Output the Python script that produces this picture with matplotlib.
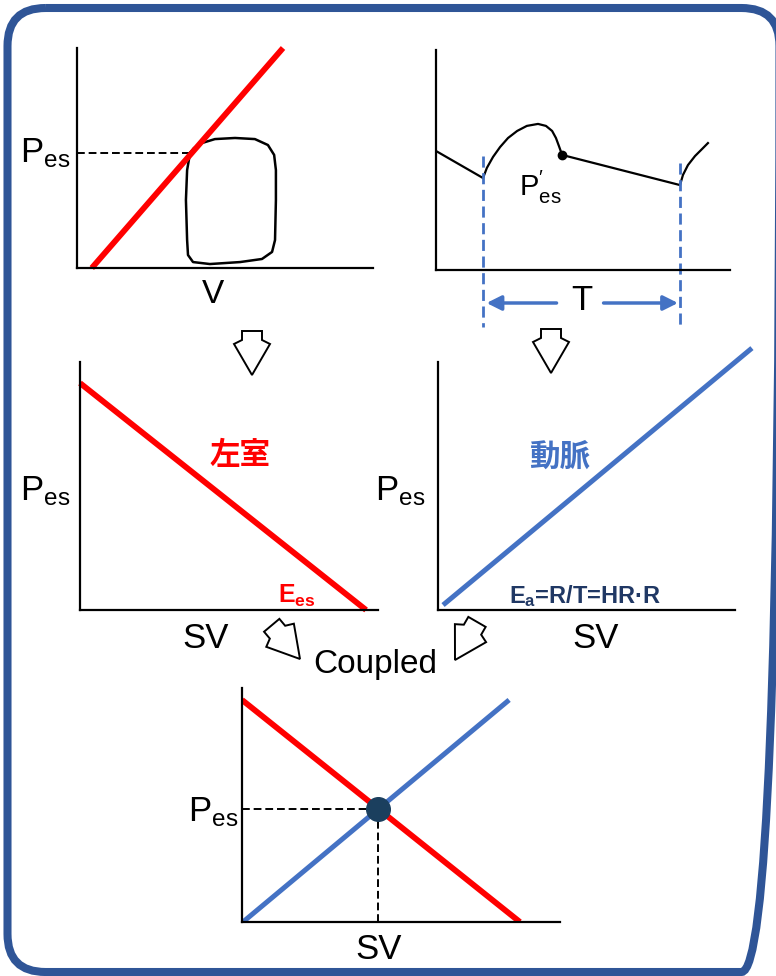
import numpy as np
import matplotlib.pyplot as plt
from matplotlib import font_manager
from matplotlib.patches import FancyBboxPatch, Polygon

installed = {f.name for f in font_manager.fontManager.ttflist}
LABEL_FONT = 'Liberation Sans Narrow' if 'Liberation Sans Narrow' in installed else 'Liberation Sans'

plt.rcParams['font.family'] = [LABEL_FONT, 'DejaVu Sans']
plt.rcParams['mathtext.fontset'] = 'custom'
plt.rcParams['mathtext.rm'] = LABEL_FONT
plt.rcParams['mathtext.it'] = LABEL_FONT
plt.rcParams['mathtext.bf'] = 'Liberation Sans:bold'

RED = '#FF0000'
BLUE = '#4472C4'
NAVY = '#203864'
FRAME = '#2F5597'

# --- top left: end-systolic P-V line and pressure-volume loop
espvr_v = [5.0, 69.6]
espvr_p = [0.0, 100.0]
pes_lv = 52.3
loop_v = [38.2, 37.2, 36.8, 37.2, 37.5, 39.2, 44.9, 55.1, 62.5, 65.9, 66.9, 67.2,
          67.2, 66.6, 64.5, 60.1, 53.4, 46.6, 42.2, 39.5, 38.2]
loop_p = [52.3, 44.5, 30.9, 12.7, 5.9, 2.7, 1.8, 2.7, 4.1, 7.3, 12.7, 30.9,
          44.5, 51.4, 55.9, 58.6, 59.1, 58.6, 56.8, 54.5, 52.3]

# --- top right: aortic pressure wave over one beat
wave_t = [0.0, 16.0, 17.3, 19.4, 21.8, 24.5, 27.6, 30.9, 34.7, 37.4, 39.5, 40.8, 41.8,
          42.9, 83.0, 84.0, 85.7, 88.1, 90.5, 92.5]
wave_p = [54.1, 41.8, 46.4, 51.4, 55.9, 60.0, 63.2, 65.5, 66.4, 65.5, 63.2, 60.0, 56.4,
          52.3, 38.6, 43.2, 47.7, 51.8, 55.0, 57.7]
notch_idx = 13         # end-systolic point on the wave
beat_idx = [1, 14]     # start / end of the beat interval T

# --- middle: ventricular (Ees) and arterial (Ea) lines against SV
lv_sv = [0.0, 96.0]
lv_p = [91.5, 0.0]
ea_sv = [1.7, 105.7]
ea_p = [2.0, 105.6]

# --- bottom: coupling of the two lines
cpl_lv_sv = [0.0, 87.4]
cpl_lv_p = [94.9, 0.0]
cpl_ea_sv = [0.3, 84.0]
cpl_ea_p = [0.0, 94.9]

W, H = 776, 976
fig = plt.figure(figsize=(W / 100, H / 100), dpi=100)
fig.patch.set_facecolor('white')

ov = fig.add_axes([0, 0, 1, 1])
ov.set_xlim(0, W)
ov.set_ylim(H, 0)
ov.axis('off')


def panel(x0, y0, x1, y1):
    ax = fig.add_axes([x0 / W, 1 - y1 / H, (x1 - x0) / W, (y1 - y0) / H])
    ax.set_facecolor('none')
    ax.set_xlim(0, 100)
    ax.set_ylim(0, 100)
    for s in ('top', 'right'):
        ax.spines[s].set_visible(False)
    for s in ('left', 'bottom'):
        ax.spines[s].set_linewidth(1.6)
        ax.spines[s].set_color('black')
    ax.set_xticks([])
    ax.set_yticks([])
    return ax


def pes_label(ax, x, y, size=25):
    ax.text(x, y, r'$\mathrm{P_{es}}$', fontsize=size, ha='right', va='center')


def hollow_arrow(x, y, angle):
    # tip at (x, y); angle in degrees, 0 = pointing straight down
    shape = np.array([(-10, -44), (10, -44), (10, -35), (18, -31), (0, 0),
                      (-18, -31), (-10, -35)], dtype=float)
    a = np.radians(angle)
    rot = np.array([[np.cos(a), np.sin(a)], [-np.sin(a), np.cos(a)]])
    pts = shape @ rot.T + [x, y]
    ov.add_patch(Polygon(pts, closed=True, facecolor='white', edgecolor='black',
                         lw=1.4, joinstyle='miter'))


def line_cross(x1, y1, x2, y2):
    m1 = (y1[1] - y1[0]) / (x1[1] - x1[0])
    m2 = (y2[1] - y2[0]) / (x2[1] - x2[0])
    b1 = y1[0] - m1 * x1[0]
    b2 = y2[0] - m2 * x2[0]
    xs = (b2 - b1) / (m1 - m2)
    return xs, m1 * xs + b1


# frame
ov.add_patch(FancyBboxPatch((7.5, 8), 772, 964, boxstyle='round,pad=0,rounding_size=38',
                            facecolor='none', edgecolor=FRAME, lw=5.8))

# top left
ax1 = panel(77, 48, 373, 268)
ax1.plot(loop_v, loop_p, color='black', lw=1.8)
v_es = espvr_v[0] + pes_lv * (espvr_v[1] - espvr_v[0]) / (espvr_p[1] - espvr_p[0])
ax1.plot([0, v_es], [pes_lv, pes_lv], color='black', lw=1.4, ls=(0, (4, 2)))
ax1.plot(espvr_v, espvr_p, color=RED, lw=4.2, clip_on=False, solid_capstyle='butt')
pes_label(ax1, -2.4, pes_lv)
ax1.text(46, -5, 'V', fontsize=24, ha='center', va='top')

# top right
ax2 = panel(436, 50, 730, 270)
ax2.plot(wave_t, wave_p, color='black', lw=1.6)
ax2.plot(wave_t[notch_idx], wave_p[notch_idx], 'o', color='black', ms=6)
ax2.text(35.4, 37.5, r'$\mathrm{P_{es}^{\prime}}$', fontsize=21, ha='center', va='center')
for i in beat_idx:
    ax2.plot([wave_t[i], wave_t[i]], [wave_p[i] + 10, -26], color=BLUE, lw=2,
             ls=(0, (4, 2)), clip_on=False)
t_mid = (wave_t[beat_idx[0]] + wave_t[beat_idx[1]]) / 2
ax2.text(t_mid, -14, 'T', fontsize=25, ha='center', va='center')
for x_from, x_to in [(t_mid - 8.5, wave_t[beat_idx[0]] + 1.2),
                     (t_mid + 7.5, wave_t[beat_idx[1]] - 0.7)]:
    ax2.annotate('', xy=(x_to, -15), xytext=(x_from, -15), annotation_clip=False,
                 arrowprops=dict(arrowstyle='-|>', color=BLUE, lw=2.5,
                                 mutation_scale=22, shrinkA=0, shrinkB=0))

hollow_arrow(252, 375, 0)
hollow_arrow(551, 373, 0)

# middle left: ventricle
ax3 = panel(80, 362, 378, 610)
ax3.plot(lv_sv, lv_p, color=RED, lw=4.2, clip_on=False, solid_capstyle='butt')
ax3.text(53.7, 62.5, '左室', fontsize=22, color=RED, weight='bold',
         family=['Noto Sans CJK JP'], ha='center', va='center')
ax3.text(72.8, 5.5, r'$\mathbf{E_{es}}$', fontsize=18, color=RED, ha='center', va='center')
pes_label(ax3, -3.4, 48)
ax3.text(42, -5, 'SV', fontsize=25, ha='center', va='top')

# middle right: artery
ax4 = panel(438, 362, 735, 610)
ax4.plot(ea_sv, ea_p, color=BLUE, lw=3.6, clip_on=False, solid_capstyle='butt')
ax4.text(41, 61.7, '動脈', fontsize=22, color=BLUE, weight='bold',
         family=['Noto Sans CJK JP'], ha='center', va='center')
ax4.text(49.5, 5.5, r'$\mathbf{E_a}$=R/T=HR·R', fontsize=17, color=NAVY, weight='bold',
         ha='center', va='center', family=['Liberation Sans', 'DejaVu Sans'])
pes_label(ax4, -4.4, 48)
ax4.text(52.9, -5, 'SV', fontsize=25, ha='center', va='top')

hollow_arrow(300, 659, 40)
hollow_arrow(455, 660, -30)
ov.text(375, 665, 'Coupled', fontsize=24, ha='center', va='center')

# bottom: coupled ventricle and artery
ax5 = panel(242, 688, 560, 922)
sv_c, p_c = line_cross(cpl_lv_sv, cpl_lv_p, cpl_ea_sv, cpl_ea_p)
ax5.plot([0, sv_c], [p_c, p_c], color='black', lw=1.4, ls=(0, (4, 2)))
ax5.plot([sv_c, sv_c], [0, p_c], color='black', lw=1.4, ls=(0, (4, 2)))
ax5.plot(cpl_lv_sv, cpl_lv_p, color=RED, lw=4.2, solid_capstyle='butt')
ax5.plot(cpl_ea_sv, cpl_ea_p, color=BLUE, lw=3.6, solid_capstyle='butt')
ax5.plot(sv_c, p_c, 'o', color='#1B3F5E', ms=17, zorder=5)
pes_label(ax5, -1.3, p_c - 1.5)
ax5.text(sv_c, -4.5, 'SV', fontsize=25, ha='center', va='top')

fig.savefig('out.png', dpi=100)
